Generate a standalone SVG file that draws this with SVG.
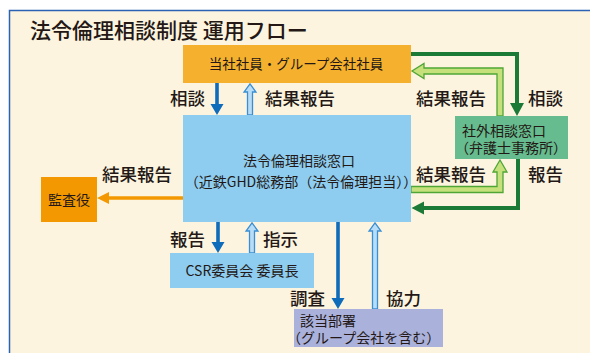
<svg xmlns="http://www.w3.org/2000/svg" width="590" height="353" viewBox="0 0 590 353">
<style>
  text { font-family: "Noto Sans CJK JP", "Noto Sans", sans-serif; fill: #231815; }
  .title { font-size: 21px; font-weight: 500; }
  .lbl { font-size: 17.5px; font-weight: 500; }
  .nt { font-size: 14px; }
  .tight { font-family: "Liberation Sans", "Noto Sans CJK JP", sans-serif; }
  .mid { text-anchor: middle; }
  .solid { fill: #0F6CBA; }
  .hollow { fill: #B9DDF6; stroke: #3A8FD4; stroke-width: 1.3; stroke-linejoin: miter; }
  .dgline { fill: none; stroke: #1A7A36; stroke-width: 4; stroke-linejoin: miter; }
  .dghead { fill: #1A7A36; }
  .lg { fill: #C6E07C; stroke: #4FA636; stroke-width: 1.3; stroke-linejoin: miter; }
  .orange { fill: #F39800; }
</style>
<rect x="0" y="0" width="590" height="353" fill="#ffffff"/>
<rect x="9.5" y="10.5" width="620" height="400" fill="#FDF4DF" stroke="#2B62B3" stroke-width="1.5"/>
<text class="title" x="30" y="38">法令倫理相談制度 運用フロー</text>

<g id="connectors">
  <!-- employees <-> desk -->
  <polygon class="solid" points="215.2,83 218.8,83 218.8,104 223.5,104 217,115 210.5,104 215.2,104"/>
  <polygon class="hollow" points="247.5,115 247.5,92 244,92 250,83.8 256,92 252.5,92 252.5,115"/>
  <!-- desk <-> csr -->
  <polygon class="solid" points="216.2,222 219.8,222 219.8,242 224.5,242 218,253 211.5,242 216.2,242"/>
  <polygon class="hollow" points="249.5,253 249.5,231 246,231 252,222.8 258,231 254.5,231 254.5,253"/>
  <!-- desk <-> dept -->
  <polygon class="solid" points="336.2,222 339.8,222 339.8,298 344.5,298 338,309 331.5,298 336.2,298"/>
  <polygon class="hollow" points="372.5,309 372.5,231 369,231 375,222.8 381,231 377.5,231 377.5,309"/>
  <!-- desk -> auditor -->
  <polygon class="orange" points="183,196.2 109,196.2 109,192 97,198 109,204 109,199.8 183,199.8"/>
  <!-- employees -> external -->
  <path class="dgline" d="M411,54 H517 V104"/>
  <polygon class="dghead" points="510,103 524,103 517,116"/>
  <!-- external -> employees -->
  <polygon class="lg" points="503,116 503,68 424,68 424,63.5 412,71 424,78.5 424,74 497,74 497,116"/>
  <!-- external -> desk -->
  <path class="dgline" d="M518,159 V208 H423"/>
  <polygon class="dghead" points="424,201.5 424,214.5 411.5,208"/>
  <!-- desk -> external -->
  <polygon class="lg" points="411,186.5 497,186.5 497,172 493,172 500,160 507,172 503,172 503,192.5 411,192.5"/>

  <text class="lbl" x="170" y="105">相談</text>
  <text class="lbl" x="265" y="105">結果報告</text>
  <text class="lbl" x="416" y="105">結果報告</text>
  <text class="lbl" x="528" y="105">相談</text>
  <text class="lbl" x="102" y="181">結果報告</text>
  <text class="lbl" x="416" y="181">結果報告</text>
  <text class="lbl" x="528" y="181">報告</text>
  <text class="lbl" x="170" y="246">報告</text>
  <text class="lbl" x="263" y="246">指示</text>
  <text class="lbl" x="290" y="305">調査</text>
  <text class="lbl" x="386" y="305">協力</text>
</g>

<g id="n-employees">
  <rect x="183" y="45" width="228" height="38" fill="#F5B12E"/>
  <text class="nt mid" x="296" y="69" style="font-size:13.5px">当社社員・グループ会社社員</text>
</g>
<g id="n-desk">
  <rect x="183" y="115" width="228" height="107" fill="#8ECDF0"/>
  <text class="nt mid" x="299" y="166">法令倫理相談窓口<tspan x="301" y="187">（近鉄GHD総務部（法令倫理担当））</tspan></text>
</g>
<g id="n-auditor">
  <rect x="41" y="177" width="56" height="45" fill="#F39800"/>
  <text class="nt mid" x="69" y="205">監査役</text>
</g>
<g id="n-external">
  <rect x="455" y="116" width="113" height="43" fill="#66BC8E"/>
  <text class="nt tight" x="462" y="136">社外相談窓口<tspan x="455" y="153">（弁護士事務所）</tspan></text>
</g>
<g id="n-csr">
  <rect x="170" y="253" width="144" height="35" fill="#8ECDF0"/>
  <text class="nt mid" x="242" y="276">CSR委員会 委員長</text>
</g>
<g id="n-dept">
  <rect x="294" y="309" width="149" height="38" fill="#AAB1DB"/>
  <text class="nt tight" x="300" y="326">該当部署<tspan x="287" y="343">（グループ会社を含む）</tspan></text>
</g>
</svg>
